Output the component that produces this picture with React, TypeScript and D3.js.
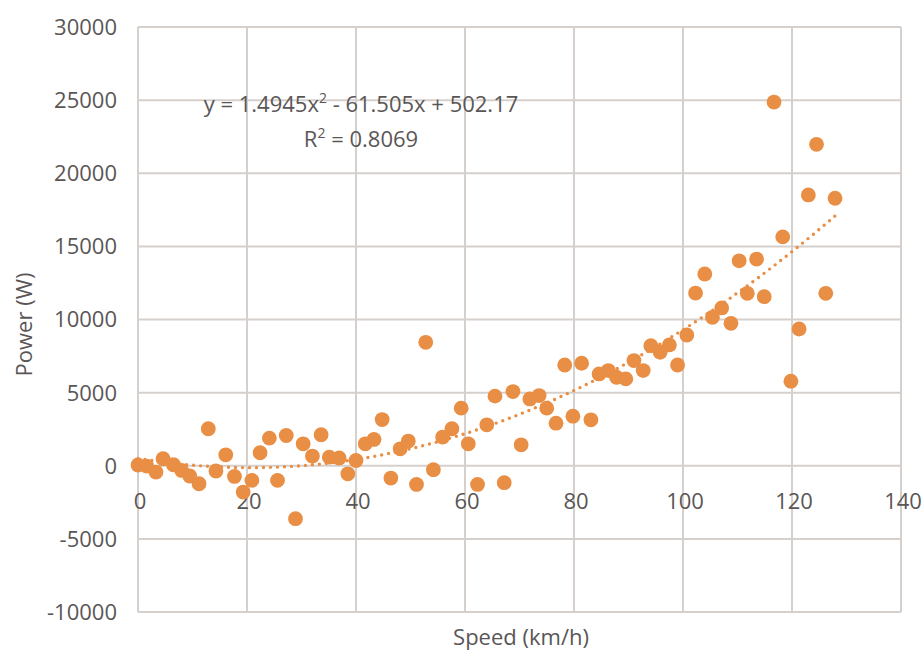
import React from "react";
import * as d3 from "d3";

const speed: number[] = [
  0, 1.6, 3.3, 4.6, 6.5, 8.0, 9.5, 11.2, 12.9, 14.3, 16.1, 17.7, 19.3, 20.9, 22.4, 24.1, 25.6, 27.2, 28.9, 30.3,
  32.0, 33.6, 35.1, 36.9, 38.5, 40.0, 41.7, 43.3, 44.8, 46.4, 48.1, 49.6, 51.1, 52.8, 54.2, 55.9, 57.6, 59.3, 60.6, 62.3,
  64.0, 65.5, 67.2, 68.8, 70.3, 71.9, 73.6, 75.0, 76.7, 78.3, 79.8, 81.4, 83.1, 84.6, 86.3, 87.8, 89.5, 91.0, 92.7, 94.1,
  95.8, 97.5, 99.0, 100.7, 102.3, 104.0, 105.4, 107.1, 108.8, 110.3, 111.8, 113.5, 114.9, 116.7, 118.3, 119.8, 121.3, 123.0, 124.5, 126.2,
  127.9,
];
const power: number[] = [
  50, -20, -430, 480, 70, -320, -700, -1230, 2530, -360, 750, -730, -1800, -1000, 890, 1890, -1000, 2070, -3620, 1500,
  660, 2120, 590, 530, -550, 360, 1500, 1800, 3160, -840, 1160, 1690, -1280, 8440, -270, 1960, 2530, 3940, 1500, -1280,
  2800, 4760, -1160, 5070, 1430, 4570, 4800, 3940, 2910, 6890, 3390, 7010, 3140, 6280, 6510, 6050, 5940, 7190, 6510, 8210,
  7760, 8260, 6890, 8940, 11810, 13110, 10150, 10790, 9740, 14010, 11790, 14130, 11560, 24870, 15650, 5780, 9350, 18520, 21980, 11790,
  18290,
];
const xTicks: number[] = [0, 20, 40, 60, 80, 100, 120, 140];
const yTicks: number[] = [-10000, -5000, 0, 5000, 10000, 15000, 20000, 25000, 30000];
const coefA = 1.4945;
const coefB = -61.505;
const coefC = 502.17;

export default function App() {
  const W = 924, H = 652;
  const left = 138, right = 901, top = 27, bottom = 612;
  const x = d3.scaleLinear().domain([0, 140]).range([left, right]);
  const y = d3.scaleLinear().domain([-10000, 30000]).range([bottom, top]);
  const grid = "#D6D0CD";
  const textCol = "#5A5656";
  const orange = "#E98E45";
  const font = "'Open Sans', sans-serif";

  const xMin = d3.min(speed) as number;
  const xMax = d3.max(speed) as number;
  const trendPts = d3.range(0, 201).map((i) => {
    const xv = xMin + ((xMax - xMin) * i) / 200;
    return [xv, coefA * xv * xv + coefB * xv + coefC] as [number, number];
  });
  const line = d3.line<[number, number]>().x((d) => x(d[0])).y((d) => y(d[1]));

  return (
    <div style={{ position: "absolute", left: 0, top: 0 }}>
      <svg width={W} height={H} style={{ display: "block", background: "#fff" }}>
        {yTicks.map((t) => (
          <line key={"h" + t} x1={left} x2={right} y1={y(t)} y2={y(t)} stroke={grid} strokeWidth={2} />
        ))}
        {xTicks.map((t) => (
          <line key={"v" + t} x1={x(t)} x2={x(t)} y1={top} y2={bottom} stroke={grid} strokeWidth={2} />
        ))}
        {yTicks.map((t) => (
          <text key={"yl" + t} x={117} y={y(t)} dy="0.36em" textAnchor="end" fill={textCol} fontFamily={font} fontSize={22}>
            {t}
          </text>
        ))}
        {xTicks.map((t) => (
          <text key={"xl" + t} x={x(t) + 2} y={y(0) + 43} textAnchor="middle" fill={textCol} fontFamily={font} fontSize={22}>
            {t}
          </text>
        ))}
        <path d={line(trendPts) || ""} fill="none" stroke={orange} strokeWidth={3.4} strokeDasharray="0 7" strokeLinecap="round" />
        {speed.map((s, i) => (
          <circle key={"p" + i} cx={x(s)} cy={y(power[i])} r={7.4} fill={orange} />
        ))}
        <text x={361} y={104} dy="0.36em" textAnchor="middle" fill={textCol} fontFamily={font} fontSize={22}>
          y = 1.4945x<tspan dy="-9" fontSize={14}>2</tspan><tspan dy="9"> - 61.505x + 502.17</tspan>
        </text>
        <text x={361} y={139} dy="0.36em" textAnchor="middle" fill={textCol} fontFamily={font} fontSize={22}>
          R<tspan dy="-9" fontSize={14}>2</tspan><tspan dy="9"> = 0.8069</tspan>
        </text>
        <text transform={`translate(24,${(top + bottom) / 2 + 5}) rotate(-90)`} textAnchor="middle" dy="0.36em" fill={textCol} fontFamily={font} fontSize={22}>
          Power (W)
        </text>
        <text x={521} y={637} dy="0.36em" textAnchor="middle" fill={textCol} fontFamily={font} fontSize={22}>
          Speed (km/h)
        </text>
      </svg>
    </div>
  );
}
